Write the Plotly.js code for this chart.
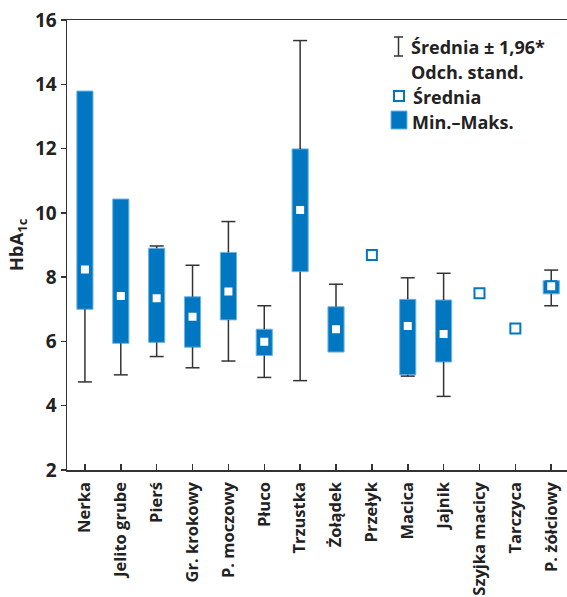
<!DOCTYPE html>
<html>
<head>
<meta charset="utf-8">
<script src="https://cdn.plot.ly/plotly-3.0.1.min.js"></script>
<style>html,body{margin:0;padding:0;background:#fff;}#chart{width:567px;height:597px;}</style>
</head>
<body>
<div id="chart"></div>
<script>
// ---- data ----
var categories = ['Nerka','Jelito grube','Pierś','Gr. krokowy','P. moczowy','Płuco','Trzustka','Żołądek','Przełyk','Macica','Jajnik','Szyjka macicy','Tarczyca','P. żółciowy'];
var meanVals = [8.24, 7.41, 7.34, 6.77, 7.55, 5.99, 10.09, 6.38, 8.69, 6.48, 6.23, 7.50, 6.40, 7.72];
var minVals  = [7.00, 5.94, 5.97, 5.82, 6.67, 5.56, 8.17, 5.67, null, 4.96, 5.36, null, null, 7.48];
var maxVals  = [13.79, 10.43, 8.90, 7.39, 8.77, 6.38, 11.99, 7.08, null, 7.31, 7.29, null, null, 7.89];
var sdLow    = [4.74, 4.96, 5.53, 5.18, 5.39, 4.88, 4.78, null, null, 4.92, 4.29, null, null, 7.11];
var sdHigh   = [null, null, 8.97, 8.37, 9.73, 7.11, 15.36, 7.78, null, 7.98, 8.12, null, null, 8.22];
var yTicks = [2, 4, 6, 8, 10, 12, 14, 16];

var BLUE = '#0077c0';
var EDGE = '#6db5e3';
var DARK = '#333333';
var FONT = 'Open Sans, Noto Sans, sans-serif';

// boxes (min–max)
var bx = [], bbase = [], bh = [];
categories.forEach(function(c, i){
  if (minVals[i] != null && maxVals[i] != null) {
    bx.push(c); bbase.push(minVals[i]); bh.push(maxVals[i] - minVals[i]);
  }
});

// whisker stems & caps (mean ± 1.96 SD), drawn only outside the box
var wx = [], wy = [], cx = [], cy = [];
categories.forEach(function(c, i){
  var top = maxVals[i] != null ? maxVals[i] : meanVals[i];
  var bot = minVals[i] != null ? minVals[i] : meanVals[i];
  if (sdHigh[i] != null && sdHigh[i] > top) {
    wx.push(c, c, null); wy.push(top, sdHigh[i], null);
    cx.push(c); cy.push(sdHigh[i]);
  }
  if (sdLow[i] != null && sdLow[i] < bot) {
    wx.push(c, c, null); wy.push(bot, sdLow[i], null);
    cx.push(c); cy.push(sdLow[i]);
  }
});

var traces = [
  {type:'bar', x:bx, y:bh, base:bbase, width:0.45,
   marker:{color:BLUE, line:{color:EDGE, width:1}}, hoverinfo:'skip', showlegend:false},
  {type:'scatter', mode:'lines', x:wx, y:wy, connectgaps:false,
   line:{color:DARK, width:1.5}, hoverinfo:'skip', showlegend:false},
  {type:'scatter', mode:'markers', x:cx, y:cy,
   marker:{symbol:'line-ew', size:10, line:{color:DARK, width:1.5}}, hoverinfo:'skip', showlegend:false},
  {type:'scatter', mode:'markers', x:categories, y:meanVals,
   marker:{symbol:'square', size:10, color:'#ffffff', line:{color:BLUE, width:2}}, showlegend:false}
];

// legend helpers (pixel -> paper)
function px(x){ return (x - 67) / 500; }
function py(y){ return (470 - y) / 450; }

var legendFont = {family:FONT, size:18, color:'#222', weight:'bold'};
var annotations = [
  {text:'<b>Średnia ± 1,96*</b>', x:px(409), y:py(47), xref:'paper', yref:'paper', xanchor:'left', yanchor:'middle', showarrow:false, font:legendFont},
  {text:'<b>Odch. stand.</b>', x:px(409), y:py(72), xref:'paper', yref:'paper', xanchor:'left', yanchor:'middle', showarrow:false, font:legendFont},
  {text:'<b>Średnia</b>', x:px(411), y:py(97), xref:'paper', yref:'paper', xanchor:'left', yanchor:'middle', showarrow:false, font:legendFont},
  {text:'<b>Min.–Maks.</b>', x:px(410), y:py(122), xref:'paper', yref:'paper', xanchor:'left', yanchor:'middle', showarrow:false, font:legendFont}
];
var shapes = [
  {type:'line', xref:'paper', yref:'paper', x0:px(398.5), x1:px(398.5), y0:py(37), y1:py(56), line:{color:DARK, width:1.5}},
  {type:'line', xref:'paper', yref:'paper', x0:px(394), x1:px(403), y0:py(37), y1:py(37), line:{color:DARK, width:1.5}},
  {type:'line', xref:'paper', yref:'paper', x0:px(394), x1:px(403), y0:py(56), y1:py(56), line:{color:DARK, width:1.5}},
  {type:'rect', xref:'paper', yref:'paper', x0:px(394), x1:px(404), y0:py(91), y1:py(101), fillcolor:'#fff', line:{color:BLUE, width:2}},
  {type:'rect', xref:'paper', yref:'paper', x0:px(391), x1:px(407), y0:py(111), y1:py(129), fillcolor:BLUE, line:{color:EDGE, width:1}}
];

var layout = {
  width:567, height:597,
  margin:{l:67, r:0, t:20, b:127, pad:0},
  paper_bgcolor:'#fff', plot_bgcolor:'#fff',
  font:{family:FONT, color:'#222'},
  showlegend:false,
  xaxis:{
    type:'category', categoryorder:'array', categoryarray:categories,
    range:[-0.5, 13.44], showgrid:false, zeroline:false,
    showline:true, linecolor:DARK, linewidth:1.5, mirror:true,
    ticks:'inside', ticklen:6, tickwidth:1.5, tickcolor:DARK,
    tickangle:-90, ticklabelstandoff:4,
    tickfont:{family:FONT, size:16.5, color:'#222', weight:'bold'},
    automargin:false, fixedrange:true
  },
  yaxis:{
    range:[2, 16], tickvals:yTicks, ticktext:yTicks.map(String),
    showgrid:false, zeroline:false,
    showline:true, linecolor:DARK, linewidth:1.5,
    ticks:'outside', ticklen:5, tickwidth:1.5, tickcolor:DARK,
    tickfont:{family:FONT, size:19, color:'#222', weight:'bold'},
    title:{text:'<b>HbA<sub>1c</sub></b>', standoff:6, font:{family:FONT, size:18.5, color:'#222', weight:'bold'}},
    automargin:false, fixedrange:true
  },
  annotations:annotations,
  shapes:shapes,
  bargap:0
};

Plotly.newPlot('chart', traces, layout, {displayModeBar:false, staticPlot:true});
</script>
</body>
</html>
